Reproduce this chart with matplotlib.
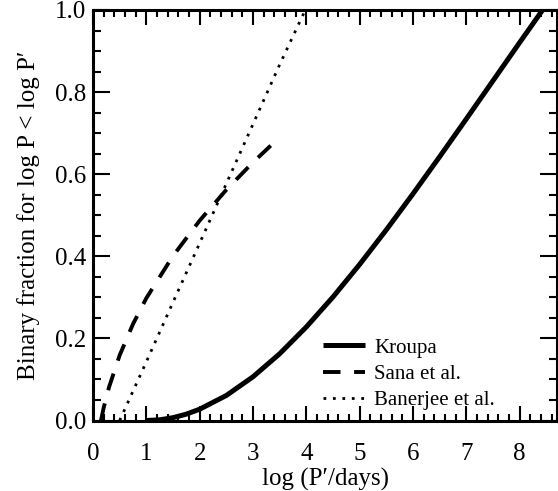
import numpy as np
import matplotlib
matplotlib.use('Agg')
import matplotlib.pyplot as plt
from matplotlib.ticker import MultipleLocator

plt.rcParams['font.family'] = ['Liberation Serif', 'DejaVu Serif']
plt.rcParams['mathtext.fontset'] = 'stix'

# cumulative binary fraction vs log P
kroupa_x = [1.0, 1.25, 1.5, 1.75, 2.0, 2.5, 3.0, 3.5, 4.0, 4.5, 5.0, 5.5, 6.0, 6.5, 7.0, 7.5, 8.0, 8.43]
kroupa_y = [0.0, 0.0017, 0.0069, 0.0155, 0.0275, 0.061, 0.1065, 0.1626, 0.2279, 0.301, 0.3803,
            0.4645, 0.5523, 0.6427, 0.7347, 0.8277, 0.9208, 1.0]

sana_x = [0.15, 0.2, 0.3, 0.5, 0.75, 1.0, 1.5, 2.0, 2.5, 3.0, 3.5]
sana_y = [0.0, 0.031, 0.081, 0.159, 0.235, 0.298, 0.401, 0.487, 0.562, 0.629, 0.690]

ban_x = [0.5, 1.0, 1.5, 2.0, 2.5, 3.0, 3.5, 3.98]
ban_y = [0.0, 0.143, 0.288, 0.432, 0.577, 0.722, 0.867, 1.0]

labels = ['Kroupa', 'Sana et al.', 'Banerjee et al.']

fig = plt.figure(figsize=(5.58, 4.91), dpi=100)
ax = fig.add_axes([93 / 558, 1 - 420.5 / 491, 464 / 558, 410.5 / 491])

ax.plot(kroupa_x, kroupa_y, color='black', lw=3.6, solid_capstyle='butt', label=labels[0])
ax.plot(sana_x, sana_y, color='black', lw=2.8, dashes=(4.5, 3.5), label=labels[1])
ax.plot(ban_x, ban_y, color='black', lw=2.0, dashes=(1, 2.4), label=labels[2])

ax.set_xlim(0, 8.7)
ax.set_ylim(0, 1.0)
ax.xaxis.set_major_locator(MultipleLocator(1))
ax.xaxis.set_minor_locator(MultipleLocator(0.2))
ax.yaxis.set_major_locator(MultipleLocator(0.2))
ax.yaxis.set_minor_locator(MultipleLocator(0.05))
ax.set_xticks(range(9))
ax.set_xticklabels([str(i) for i in range(9)])
ax.set_yticks([0.0, 0.2, 0.4, 0.6, 0.8, 1.0])
ax.set_yticklabels(['0.0', '0.2', '0.4', '0.6', '0.8', '1.0'])

ax.tick_params(which='both', direction='in', top=True, right=True, width=1.5, labelsize=18)
ax.tick_params(axis='x', which='major', length=10.5, pad=16)
ax.tick_params(axis='x', which='minor', length=5)
ax.tick_params(axis='y', which='major', length=12, pad=5)
ax.tick_params(axis='y', which='minor', length=5.5)
for s in ax.spines.values():
    s.set_linewidth(2.2)

ax.set_xlabel('log (P\u2032/days)', fontsize=18, labelpad=2)
ax.set_ylabel('Binary fraction for log P < log P\u2032', fontsize=18, labelpad=11)

ax.legend(loc='lower left', bbox_to_anchor=(0.496, 0.025), frameon=False, fontsize=15,
          borderpad=0, borderaxespad=0, handlelength=2.0, handletextpad=0.45,
          labelspacing=0.32)

fig.savefig('out.png', dpi=100)
